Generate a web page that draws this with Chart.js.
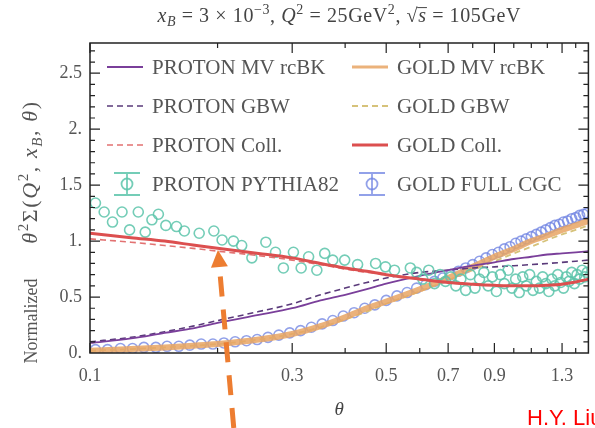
<!DOCTYPE html>
<html>
<head>
<meta charset="utf-8">
<script src="https://cdn.jsdelivr.net/npm/chart.js@4.4.1/dist/chart.umd.min.js"></script>
<style>
  html, body { margin: 0; padding: 0; background: #fff; }
  #wrap { width: 595px; height: 428px; }
</style>
</head>
<body>
<div id="wrap"><canvas id="myChart" width="595" height="428"></canvas></div>
<script>
//Data
const thetaCurve = [0.1, 0.125, 0.15, 0.175, 0.2, 0.25, 0.3, 0.35, 0.4, 0.45, 0.5, 0.6, 0.7, 0.8, 0.9, 1.0, 1.1, 1.2, 1.3, 1.4, 1.5];
const protonMV   = [0.09, 0.13, 0.18, 0.22, 0.27, 0.34, 0.40, 0.47, 0.52, 0.57, 0.62, 0.69, 0.74, 0.78, 0.81, 0.84, 0.86, 0.88, 0.89, 0.90, 0.91];
const protonGBW  = [0.10, 0.14, 0.19, 0.24, 0.29, 0.37, 0.44, 0.52, 0.58, 0.63, 0.67, 0.72, 0.74, 0.76, 0.77, 0.78, 0.79, 0.80, 0.81, 0.82, 0.83];
const protonColl = [1.02, 0.99, 0.96, 0.935, 0.91, 0.87, 0.83, 0.79, 0.75, 0.72, 0.70, 0.66, 0.63, 0.615, 0.605, 0.60, 0.60, 0.605, 0.615, 0.635, 0.66];
const goldMV     = [0.02, 0.035, 0.05, 0.065, 0.08, 0.12, 0.17, 0.24, 0.32, 0.40, 0.46, 0.57, 0.67, 0.77, 0.86, 0.93, 1.00, 1.05, 1.10, 1.14, 1.18];
const goldGBW    = [0.02, 0.035, 0.05, 0.065, 0.08, 0.12, 0.17, 0.23, 0.30, 0.37, 0.44, 0.55, 0.65, 0.74, 0.82, 0.89, 0.95, 1.01, 1.06, 1.10, 1.14];
const goldColl   = [1.07, 1.03, 1.00, 0.965, 0.935, 0.89, 0.85, 0.80, 0.76, 0.73, 0.70, 0.66, 0.63, 0.615, 0.605, 0.60, 0.60, 0.605, 0.615, 0.635, 0.66];

const thetaPythia = [0.103, 0.108, 0.113, 0.119, 0.124, 0.130, 0.135, 0.140, 0.145, 0.151, 0.160, 0.167, 0.181, 0.196, 0.205, 0.218, 0.228, 0.241, 0.260, 0.274, 0.286, 0.302, 0.315, 0.328, 0.343, 0.358, 0.374, 0.399, 0.428, 0.472, 0.498, 0.523, 0.570,
  0.59, 0.61, 0.63, 0.65, 0.67, 0.69, 0.71, 0.73, 0.75, 0.77, 0.79, 0.81, 0.83, 0.85, 0.87, 0.89, 0.91, 0.93, 0.95, 0.97, 0.99, 1.01, 1.03, 1.05, 1.07, 1.09, 1.11, 1.13, 1.15, 1.17, 1.19, 1.21, 1.23, 1.25, 1.27, 1.29, 1.31, 1.33, 1.35, 1.37, 1.39, 1.41, 1.43, 1.45, 1.47, 1.49];
const pythia = [1.34, 1.26, 1.17, 1.26, 1.10, 1.26, 1.08, 1.19, 1.24, 1.14, 1.13, 1.09, 1.07, 1.09, 1.01, 1.00, 0.96, 0.85, 0.99, 0.90, 0.76, 0.90, 0.76, 0.86, 0.74, 0.89, 0.83, 0.83, 0.79, 0.80, 0.77, 0.74, 0.76,
  0.72, 0.66, 0.74, 0.62, 0.70, 0.64, 0.68, 0.60, 0.66, 0.56, 0.70, 0.58, 0.66, 0.72, 0.60, 0.68, 0.55, 0.70, 0.62, 0.74, 0.58, 0.66, 0.54, 0.68, 0.60, 0.70, 0.56, 0.64, 0.58, 0.68, 0.62, 0.55, 0.66, 0.60, 0.70, 0.63, 0.58, 0.68, 0.64, 0.72, 0.62, 0.70, 0.66, 0.74, 0.68, 0.72];

const thetaCgc = [0.103, 0.110, 0.118, 0.126, 0.134, 0.143, 0.152, 0.162, 0.172, 0.183, 0.195, 0.207, 0.220, 0.234, 0.248, 0.263, 0.279, 0.296, 0.314, 0.333, 0.353, 0.374, 0.396, 0.42, 0.445, 0.47, 0.50, 0.53, 0.56, 0.59,
  0.62, 0.65, 0.68, 0.71, 0.74, 0.77, 0.80, 0.83, 0.86, 0.89, 0.92, 0.95, 0.98, 1.01, 1.04, 1.07, 1.10, 1.13, 1.16, 1.19, 1.22, 1.25, 1.28, 1.31, 1.34, 1.37, 1.40, 1.43, 1.46, 1.49];
const goldCgc = [0.03, 0.03, 0.04, 0.04, 0.05, 0.05, 0.06, 0.06, 0.07, 0.08, 0.08, 0.09, 0.10, 0.11, 0.12, 0.14, 0.16, 0.18, 0.20, 0.23, 0.26, 0.29, 0.33, 0.36, 0.40, 0.43, 0.47, 0.51, 0.54, 0.58,
  0.61, 0.64, 0.67, 0.70, 0.73, 0.76, 0.79, 0.82, 0.85, 0.88, 0.90, 0.93, 0.95, 0.98, 1.00, 1.02, 1.04, 1.06, 1.08, 1.10, 1.12, 1.14, 1.15, 1.17, 1.18, 1.20, 1.21, 1.23, 1.24, 1.25];

const xLabelTicks = [0.1, 0.3, 0.5, 0.7, 0.9, 1.3];
const xMinorTicks = [0.2, 0.4, 0.6, 0.8, 1.0, 1.1, 1.2, 1.4];

const pts = (xs, ys) => xs.map((x, i) => ({x: x, y: ys[i]}));
const SERIF = '"Liberation Serif", "DejaVu Serif", serif';

//Rich text with italics, sub and superscripts, centred on x
function drawRich(ctx, parts, x, y, size, color, spacing) {
  const font = (p) => (p.i ? 'italic ' : '') + Math.round(p.s ? size * 0.7 : size) + 'px ' + SERIF;
  const gap = spacing || 0;
  ctx.letterSpacing = '0px';
  let total = 0;
  parts.forEach(p => { ctx.font = font(p); total += ctx.measureText(p.t).width + gap * p.t.length; });
  let cx = x - total / 2;
  ctx.fillStyle = color;
  ctx.strokeStyle = color;
  ctx.textBaseline = 'alphabetic';
  ctx.textAlign = 'left';
  parts.forEach(p => {
    ctx.font = font(p);
    let dy = 0;
    if (p.s === 'sup') dy = -size * 0.42;
    if (p.s === 'sub') dy = size * 0.22;
    const start = cx;
    for (const ch of p.t) {
      ctx.fillText(ch, cx, y + dy);
      cx += ctx.measureText(ch).width + gap;
    }
    if (p.over) {
      ctx.lineWidth = 1;
      ctx.beginPath();
      ctx.moveTo(start - 1, y - size * 0.72);
      ctx.lineTo(cx - gap + 1, y - size * 0.72);
      ctx.stroke();
    }
  });
}

const titleParts = [
  {t: 'x', i: 1}, {t: 'B', i: 1, s: 'sub'}, {t: ' = 3 × 10'}, {t: '−3', s: 'sup'}, {t: ', '},
  {t: 'Q', i: 1}, {t: '2', s: 'sup'}, {t: ' = 25GeV'}, {t: '2', s: 'sup'}, {t: ', √'},
  {t: 's', i: 1, over: true}, {t: ' = 105GeV'}
];
const yMathParts = [
  {t: 'θ', i: 1}, {t: '2', s: 'sup'}, {t: 'Σ('}, {t: 'Q', i: 1}, {t: '2', s: 'sup'},
  {t: ', '}, {t: 'x', i: 1}, {t: 'B', i: 1, s: 'sub'}, {t: ', '}, {t: 'θ', i: 1}, {t: ')'}
];

//Frame, inward ticks, legend, labels and arrow
const decorations = {
  id: 'decorations',
  afterDraw(chart) {
    const {ctx, chartArea: {left, top, right, bottom}} = chart;
    const xs = chart.scales.x, ys = chart.scales.y;
    ctx.save();
    ctx.strokeStyle = '#222';
    ctx.lineWidth = 1.5;
    ctx.strokeRect(left, top, right - left, bottom - top);

    ctx.lineWidth = 1.2;
    ctx.beginPath();
    const xt = (v, len) => {
      const px = xs.getPixelForValue(v);
      ctx.moveTo(px, bottom); ctx.lineTo(px, bottom - len);
      ctx.moveTo(px, top); ctx.lineTo(px, top + len);
    };
    xLabelTicks.forEach(v => xt(v, 10));
    xMinorTicks.forEach(v => xt(v, 5));
    for (let k = 1; k < 28; k++) {
      const v = k / 10;
      const len = (k % 5 === 0) ? 10 : 5;
      const py = ys.getPixelForValue(v);
      ctx.moveTo(left, py); ctx.lineTo(left + len, py);
      ctx.moveTo(right, py); ctx.lineTo(right - len, py);
    }
    ctx.stroke();

    //legend
    const ds = chart.data.datasets;
    const rows = [67, 106, 145, 184];
    const cols = [{x0: 107, x1: 143, tx: 152}, {x0: 352, x1: 388, tx: 397}];
    const layout = [[0, 1, 2, 3], [4, 5, 6, 7]];
    ctx.font = '21px ' + SERIF;
    ctx.textBaseline = 'middle';
    ctx.textAlign = 'left';
    layout.forEach((col, c) => {
      col.forEach((idx, r) => {
        const d = ds[idx], y = rows[r], cc = cols[c];
        if (d.showLine === false) {
          const mx = (cc.x0 + cc.x1) / 2 + 2;
          ctx.strokeStyle = d.borderColor;
          ctx.lineWidth = 1.8;
          ctx.setLineDash([]);
          ctx.beginPath();
          ctx.moveTo(mx, y - 11); ctx.lineTo(mx, y + 11);
          ctx.moveTo(mx - 13, y - 11); ctx.lineTo(mx + 13, y - 11);
          ctx.moveTo(mx - 13, y + 11); ctx.lineTo(mx + 13, y + 11);
          ctx.stroke();
          ctx.beginPath();
          ctx.arc(mx, y, 5.5, 0, Math.PI * 2);
          ctx.stroke();
        } else {
          ctx.strokeStyle = d.borderColor;
          ctx.lineWidth = Math.min(d.borderWidth, 3);
          ctx.setLineDash(d.borderDash || []);
          ctx.beginPath();
          ctx.moveTo(cc.x0, y); ctx.lineTo(cc.x1, y);
          ctx.stroke();
          ctx.setLineDash([]);
        }
        ctx.fillStyle = '#555';
        ctx.fillText(d.label, cc.tx, y + 1);
      });
    });

    //title and axis titles
    drawRich(ctx, titleParts, (left + right) / 2, 22, 20, '#444', 0.6);
    ctx.save();
    ctx.translate(37, 0);
    ctx.rotate(-Math.PI / 2);
    drawRich(ctx, [{t: 'Normalized'}], -321, 0, 18, '#555', 0);
    drawRich(ctx, yMathParts, -172, 0, 22, '#555', 1.6);
    ctx.restore();
    drawRich(ctx, [{t: 'θ', i: 1}], (left + right) / 2, 415, 19, '#444');

    //annotation arrow
    const ax0 = xs.getPixelForValue(0.2184), ay0 = ys.getPixelForValue(-0.67);
    const ax1 = xs.getPixelForValue(0.2004), ay1 = ys.getPixelForValue(0.92);
    const ang = Math.atan2(ay1 - ay0, ax1 - ax0);
    const hl = 17, hw = 8.5;
    const bx = ax1 - hl * Math.cos(ang), by = ay1 - hl * Math.sin(ang);
    ctx.strokeStyle = '#ED7D31';
    ctx.fillStyle = '#ED7D31';
    ctx.lineWidth = 5;
    ctx.setLineDash([20, 13]);
    ctx.beginPath();
    ctx.moveTo(ax0, ay0); ctx.lineTo(bx - 3 * Math.cos(ang), by - 3 * Math.sin(ang));
    ctx.stroke();
    ctx.setLineDash([]);
    ctx.beginPath();
    ctx.moveTo(ax1, ay1);
    ctx.lineTo(bx + hw * Math.sin(ang), by - hw * Math.cos(ang));
    ctx.lineTo(bx - hw * Math.sin(ang), by + hw * Math.cos(ang));
    ctx.closePath();
    ctx.fill();

    ctx.fillStyle = '#ff0000';
    ctx.font = '22px "Liberation Sans", Arial, sans-serif';
    ctx.textAlign = 'left';
    ctx.textBaseline = 'alphabetic';
    ctx.fillText('H.Y. Liu', 527, 425);
    ctx.restore();
  }
};

const lineDs = (label, ys, color, width, dash, order) => ({
  label: label, data: pts(thetaCurve, ys), borderColor: color, borderWidth: width,
  borderDash: dash, pointRadius: 0, fill: false, cubicInterpolationMode: 'monotone', order: order
});
const pointDs = (label, xs, ys, color, order) => ({
  label: label, data: pts(xs, ys), showLine: false, borderColor: color, backgroundColor: 'rgba(0,0,0,0)',
  pointRadius: 5, pointBorderWidth: 1.6, pointBorderColor: color, order: order
});

var myChart = new Chart('myChart', {
  type: 'line',
  data: {
    datasets: [
      lineDs('PROTON MV rcBK', protonMV, '#7a3f9a', 1.8, [], 3),
      lineDs('PROTON GBW', protonGBW, '#5a3a7a', 1.6, [6, 4], 3),
      lineDs('PROTON Coll.', protonColl, '#e27272', 1.6, [6, 4], 1),
      pointDs('PROTON PYTHIA82', thetaPythia, pythia, 'rgba(92,196,170,0.85)', 2),
      lineDs('GOLD MV rcBK', goldMV, 'rgba(232,165,100,0.85)', 6, [], 4),
      lineDs('GOLD GBW', goldGBW, '#d6c27a', 1.8, [6, 4], 4),
      lineDs('GOLD Coll.', goldColl, '#dc4f4f', 3, [], 0),
      pointDs('GOLD FULL CGC', thetaCgc, goldCgc, 'rgba(110,130,225,0.75)', 5)
    ]
  },
  options: {
    responsive: false,
    animation: false,
    layout: { padding: { top: 43, right: 5, left: 0, bottom: 0 } },
    plugins: { legend: { display: false }, tooltip: { enabled: false } },
    scales: {
      x: {
        type: 'logarithmic', min: 0.1, max: 1.5,
        grid: { display: false, drawTicks: false },
        border: { display: false },
        afterBuildTicks(scale) { scale.ticks = xLabelTicks.map(v => ({value: v})); },
        afterFit(scale) { scale.height = 75; },
        ticks: {
          autoSkip: false, maxRotation: 0, padding: 12, color: '#555',
          font: { family: SERIF, size: 18 },
          callback: (v) => String(v)
        }
      },
      y: {
        min: 0, max: 2.77,
        grid: { display: false, drawTicks: false },
        border: { display: false },
        afterFit(scale) { scale.width = 90; },
        ticks: {
          stepSize: 0.5, includeBounds: false, padding: 8, color: '#555',
          font: { family: SERIF, size: 18 },
          callback: (v) => (v % 1 === 0 ? v + '.' : String(v))
        }
      }
    }
  },
  plugins: [decorations]
});
</script>
</body>
</html>
